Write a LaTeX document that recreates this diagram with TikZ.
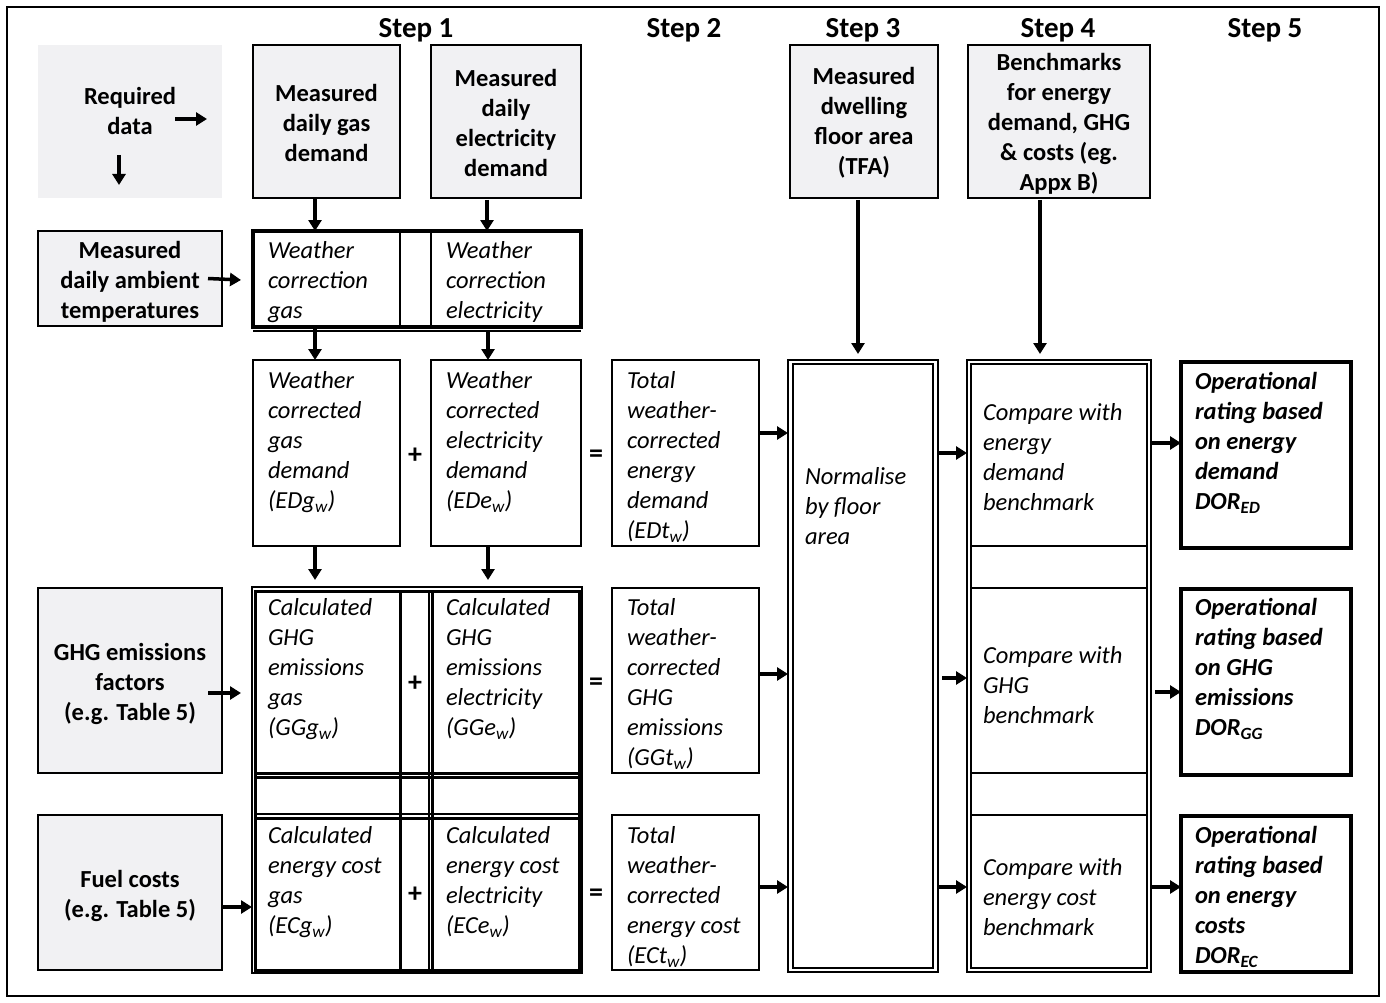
\documentclass[tikz,border=0pt]{standalone}
\usepackage{fontspec}
\setmainfont{Carlito}
\usetikzlibrary{arrows.meta}
\definecolor{boxgrey}{RGB}{241,241,243}
\begin{document}
\begin{tikzpicture}[x=1pt,y=-1pt,
  every node/.style={inner sep=0pt, outer sep=0pt},
  body/.style={font=\fontsize{24.5}{30}\selectfont},
  gbox/.style={body, draw=black, line width=2pt, fill=boxgrey, font=\bfseries\fontsize{24.5}{30}\selectfont, align=center},
  wbox/.style={draw=black, line width=2pt},
  tbox/.style={draw=black, line width=4pt},
  itxt/.style={anchor=west, align=left, yshift=-2pt, font=\itshape\fontsize{24.5}{30}\selectfont},
  btxt/.style={align=center, yshift=-2pt, font=\bfseries\fontsize{24.5}{30}\selectfont},
  rtxt/.style={anchor=west, align=left, yshift=-2pt, font=\bfseries\itshape\fontsize{24.5}{30}\selectfont},
  head/.style={yshift=-2pt, font=\bfseries\fontsize{29}{34}\selectfont},
  op/.style={font=\bfseries\fontsize{28}{30}\selectfont},
  arr/.style={line width=3.5pt, -{Triangle[length=11pt,width=13pt]}},
  thin/.style={line width=1.5pt},
  thick3/.style={line width=3pt}
]
\useasboundingbox (0,0) rectangle (1386,1003);
\draw[line width=2pt] (7,7) rectangle (1379,996);

% headings
\node[head] (h1) at (416,28) {Step 1};
\node[head] (h2) at (684,28) {Step 2};
\node[head] (h3) at (863,28) {Step 3};
\node[head] (h4) at (1058,28) {Step 4};
\node[head] (h5) at (1265,28) {Step 5};

% required data
\node[fill=boxgrey, minimum width=184pt, minimum height=153pt] (req) at (130,121.5) {};
\node[btxt] (reqt) at (130,109) {Required\\data};
\coordinate (rqa) at (175,119); \coordinate (rqb) at (207,119);
\coordinate (rqc) at (119,155); \coordinate (rqd) at (119,185);
\draw[arr] (rqa) -- (rqb);
\draw[arr] (rqc) -- (rqd);

% top grey boxes
\node[gbox, minimum width=147pt, minimum height=153pt] (gas) at (326.5,121.5) {};
\node[btxt] (gast) at (326.5,121) {Measured\\daily gas\\demand};
\node[gbox, minimum width=150pt, minimum height=153pt] (ele) at (506,121.5) {};
\node[btxt] (elet) at (506,121) {Measured\\daily\\electricity\\demand};
\node[gbox, minimum width=148pt, minimum height=153pt] (tfa) at (864,121.5) {};
\node[btxt] (tfat) at (864,121) {Measured\\dwelling\\floor area\\(TFA)};
\node[gbox, minimum width=182pt, minimum height=153pt] (bench) at (1059,121.5) {};
\node[btxt] (bencht) at (1059,122) {Benchmarks\\for energy\\demand, GHG\\\& costs (eg.\\Appx B)};

% left grey boxes
\node[gbox, minimum width=184pt, minimum height=95pt] (amb) at (130,278.5) {};
\node[btxt] (ambt) at (130,280) {Measured\\daily ambient\\temperatures};
\node[gbox, minimum width=184pt, minimum height=185pt] (ghgf) at (130,680.5) {};
\node[btxt] (ghgft) at (130,682) {GHG emissions\\factors\\(e.g. Table 5)};
\node[gbox, minimum width=184pt, minimum height=155pt] (fuel) at (130,892.5) {};
\node[btxt] (fuelt) at (130,894) {Fuel costs\\(e.g. Table 5)};

% weather correction table
\node[tbox, minimum width=328pt, minimum height=96pt] (wc) at (417,279) {};
\draw[wbox] (400,231) -- (400,327);
\draw[wbox] (431,231) -- (431,327);
\draw[thin] (253,331) -- (581,331);
\node[itxt] (wct1) at (268,280) {Weather\\correction\\gas};
\node[itxt] (wct2) at (446,280) {Weather\\correction\\electricity};

% weather corrected row
\node[wbox, minimum width=147pt, minimum height=186pt] (wcg) at (326.5,453) {};
\node[wbox, minimum width=150pt, minimum height=186pt] (wce) at (506,453) {};
\node[wbox, minimum width=147pt, minimum height=186pt] (tot1) at (685.5,453) {};
\node[itxt] (wcgt) at (268,440) {Weather\\corrected\\gas\\demand\\(EDg\textsubscript{w})};
\node[itxt] (wcet) at (446,440) {Weather\\corrected\\electricity\\demand\\(EDe\textsubscript{w})};
\node[itxt] (tot1t) at (627,455) {Total\\weather-\\corrected\\energy\\demand\\(EDt\textsubscript{w})};
\node[op] (p1) at (415,456) {+};
\node[op] (e1) at (596,456) {=};

% GHG / cost table
\node[draw=black, thin, minimum width=330pt, minimum height=386pt] (gtab) at (417,780) {};
\draw[thick3] (255,591) rectangle (579,970);
\draw[thick3] (400,591) -- (400,970);
\draw[thin] (429,591) -- (429,970);
\draw[thick3] (432,591) -- (432,970);
\draw[thick3] (255,773) -- (579,773);
\draw[thick3] (255,777) -- (579,777);
\draw[thin] (255,814) -- (579,814);
\draw[thick3] (255,818) -- (579,818);
\node[itxt] (ggt) at (268,667) {Calculated\\GHG\\emissions\\gas\\(GGg\textsubscript{w})};
\node[itxt] (get) at (446,667) {Calculated\\GHG\\emissions\\electricity\\(GGe\textsubscript{w})};
\node[itxt] (cgt) at (268,880) {Calculated\\energy cost\\gas\\(ECg\textsubscript{w})};
\node[itxt] (cet) at (446,880) {Calculated\\energy cost\\electricity\\(ECe\textsubscript{w})};
\node[op] (p2) at (415,684) {+};
\node[op] (p3) at (415,895) {+};
\node[op] (e2) at (596,684) {=};
\node[op] (e3) at (596,895) {=};

\node[wbox, minimum width=147pt, minimum height=185pt] (tot2) at (685.5,680.5) {};
\node[wbox, minimum width=147pt, minimum height=155pt] (tot3) at (685.5,892.5) {};
\node[itxt] (tot2t) at (627,682) {Total\\weather-\\corrected\\GHG\\emissions\\(GGt\textsubscript{w})};
\node[itxt] (tot3t) at (627,895) {Total\\weather-\\corrected\\energy cost\\(ECt\textsubscript{w})};

% normalise
\node[wbox, minimum width=150pt, minimum height=612pt] (norm) at (863,666) {};
\draw[wbox] (793,364) rectangle (933,968);
\node[itxt] (normt) at (805,504) {Normalise\\by floor\\area};

% step 4 table
\node[wbox, minimum width=184pt, minimum height=612pt] (cmp) at (1059,666) {};
\draw[wbox] (971,364) rectangle (1147,968);
\draw[wbox] (971,546) -- (1147,546);
\draw[wbox] (971,588) -- (1147,588);
\draw[wbox] (971,773) -- (1147,773);
\draw[wbox] (971,815) -- (1147,815);
\node[itxt] (c1t) at (983,455) {Compare with\\energy\\demand\\benchmark};
\node[itxt] (c2t) at (983,683) {Compare with\\GHG\\benchmark};
\node[itxt] (c3t) at (983,895) {Compare with\\energy cost\\benchmark};

% step 5
\node[tbox, minimum width=170pt, minimum height=186pt] (r1) at (1266,455) {};
\node[tbox, minimum width=170pt, minimum height=186pt] (r2) at (1266,682) {};
\node[tbox, minimum width=170pt, minimum height=156pt] (r3) at (1266,894) {};
\node[rtxt] (r1t) at (1195,441) {Operational\\rating based\\on energy\\demand\\DOR\textsubscript{ED}};
\node[rtxt] (r2t) at (1195,667) {Operational\\rating based\\on GHG\\emissions\\DOR\textsubscript{GG}};
\node[rtxt] (r3t) at (1195,895) {Operational\\rating based\\on energy\\costs\\DOR\textsubscript{EC}};

% arrows
\draw[arr] (gas.south -| 315,0) -- (wc.north -| 315,0);
\draw[arr] ([yshift=-2pt]ele.south -| 487,0) -- (wc.north -| 487,0);
\draw[arr] (amb.east -| 208,0) -- (241,280);
\draw[arr] ([yshift=-2pt]wc.south -| 315,0) -- (wcg.north -| 315,0);
\draw[arr] ([yshift=-4pt]wc.south -| 488,0) -- (wce.north -| 488,0);
\draw[arr] (wcg.south -| 315,0) -- (315,580);
\draw[arr] (wce.south -| 488,0) -- (488,580);
\draw[arr] (208,693) -- (241,693);
\draw[arr] (fuel.east |- 0,907) -- (gtab.west |- 0,907);
\draw[arr] (tot1.east |- 0,433) -- (norm.west |- 0,433);
\draw[arr] (tot2.east |- 0,674) -- (norm.west |- 0,674);
\draw[arr] (tot3.east |- 0,887) -- (norm.west |- 0,887);
\draw[arr] ([yshift=-2pt]tfa.south -| 858,0) -- (858,354);
\draw[arr] ([yshift=-2pt]bench.south -| 1040,0) -- (1040,354);
\draw[arr] (norm.east |- 0,453) -- (cmp.west |- 0,453);
\draw[arr] (942,678) -- (cmp.west |- 0,678);
\draw[arr] (norm.east |- 0,887) -- (cmp.west |- 0,887);
\draw[arr] (cmp.east |- 0,443) -- (r1.west |- 0,443);
\draw[arr] (1155,692) -- (r2.west |- 0,692);
\draw[arr] (cmp.east |- 0,887) -- (r3.west |- 0,887);
\end{tikzpicture}
\end{document}
